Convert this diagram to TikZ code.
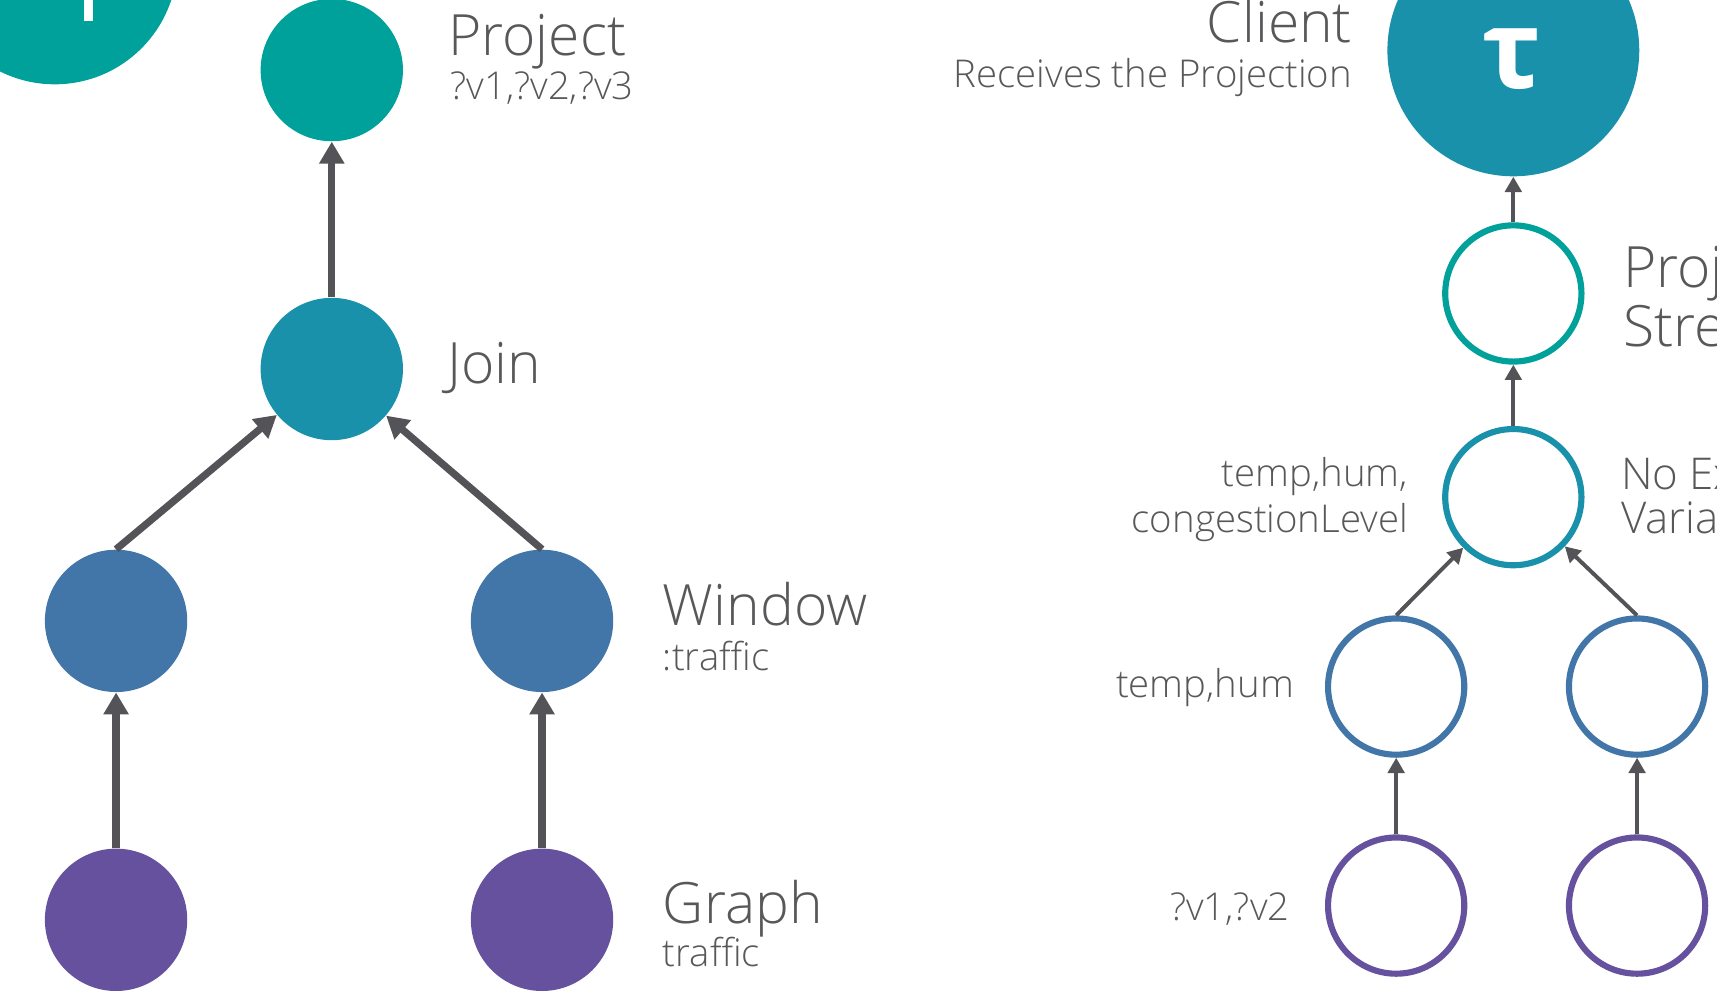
\documentclass[tikz,border=0pt]{standalone}
\usepackage{fontspec}
\setmainfont{Open Sans Light}
\newfontfamily\taufont{Open Sans}
\usetikzlibrary{arrows.meta}

\definecolor{cteal}{HTML}{00A19A}
\definecolor{cjoin}{HTML}{1A91AA}
\definecolor{cwin}{HTML}{4275A8}
\definecolor{cgraph}{HTML}{66519E}
\definecolor{carrow}{HTML}{545458}
\definecolor{ctext}{HTML}{58585B}

\begin{document}
\begin{tikzpicture}[x=0.5pt,y=-0.5pt,
  opfill/.style={circle, inner sep=0pt, minimum size=65pt},
  opring/.style={circle, inner sep=0pt, minimum size=62.2pt, line width=2.8pt, draw, fill=white},
  bigarrow/.style={draw=carrow, line width=3.3pt, -{Triangle[length=10pt,width=11pt]}},
  thinarrow/.style={draw=carrow, line width=1.8pt, -{Triangle[length=7pt,width=7.5pt]}},
  title/.style={text=ctext, inner sep=0pt, font=\fontsize{26}{30}\selectfont},
  subtitle/.style={text=ctext, inner sep=0pt, font=\fontsize{17.5}{21}\selectfont},
  note/.style={text=ctext, inner sep=0pt, font=\fontsize{20}{24}\selectfont}]

\useasboundingbox (0,0) rectangle (1568,909);
\clip (0,0) rectangle (1568,909);

% ---- left plan: operator tree ----
\node[circle, inner sep=0pt, minimum size=112pt, fill=cteal] (root) at (50,-35) {};
\fill[white] (77,-10) rectangle (85,19);

\node[opfill, fill=cteal]  (proj) at (303,64)  {};
\node[opfill, fill=cjoin]  (join) at (303,337) {};
\node[opfill, fill=cwin]   (wl)   at (106,567) {};
\node[opfill, fill=cwin]   (wr)   at (495,567) {};
\node[opfill, fill=cgraph] (gl)   at (106,840) {};
\node[opfill, fill=cgraph] (gr)   at (495,840) {};

\draw[bigarrow] (join.north) -- (proj.south);
\draw[bigarrow] (wl.north) -- (join);
\draw[bigarrow] (wr.north) -- (join);
\draw[bigarrow] (gl.north) -- (wl.south);
\draw[bigarrow] (gr.north) -- (wr.south);

\node[title, anchor=base west]    (tproj) at (409,51)  {Project};
\node[subtitle, anchor=base west] (sproj) at (411,91)  {?v1,?v2,?v3};
\node[title, anchor=base west]    (tjoin) at (408,350) {Join};
\node[title, anchor=base west]    (twin)  at (605,571) {Window};
\node[subtitle, anchor=base west] (swin)  at (605,612) {:traffic};
\node[title, anchor=base west]    (tgr)   at (605,843) {Graph};
\node[subtitle, anchor=base west] (sgr)   at (605,883) {traffic};

% ---- right plan: streaming tree ----
\node[circle, inner sep=0pt, minimum size=115pt, fill=cjoin] (client) at (1382,46) {};
\node[text=white, inner sep=0pt, anchor=base, font=\taufont\bfseries\fontsize{50}{50}\selectfont] (tau) at (1381,81) {τ};

\node[opring, draw=cteal]  (ps)  at (1382,268) {};
\node[opring, draw=cjoin]  (mid) at (1382,454) {};
\node[opring, draw=cwin]   (bl)  at (1275,627) {};
\node[opring, draw=cwin]   (br)  at (1495,627) {};
\node[opring, draw=cgraph] (pl)  at (1275,827) {};
\node[opring, draw=cgraph] (pr)  at (1495,827) {};

\draw[thinarrow] (ps.north) -- (client.south);
\draw[thinarrow] (mid.north) -- (ps.south);
\draw[thinarrow] (bl.north) -- (mid);
\draw[thinarrow] (br.north) -- (mid);
\draw[thinarrow] (pl.north) -- (bl.south);
\draw[thinarrow] (pr.north) -- (br.south);

\node[title, anchor=base east]    (tcl) at (1235,39) {Client};
\node[subtitle, anchor=base east] (scl) at (1235,80) {Receives the Projection};
\node[title, anchor=base west]    (tps1) at (1482,263) {Projection};
\node[title, anchor=base west]    (tps2) at (1482,316) {Stream};
\node[subtitle, anchor=base east] (lm1) at (1286,444) {temp,hum,};
\node[subtitle, anchor=base east] (lm2) at (1286,486) {congestionLevel};
\node[note, anchor=base west]     (rm1) at (1480,447) {No Explicit};
\node[note, anchor=base west]     (rm2) at (1480,487) {Variables};
\node[subtitle, anchor=base east] (lbl) at (1182,637) {temp,hum};
\node[subtitle, anchor=base east] (lpl) at (1178,841) {?v1,?v2};
\end{tikzpicture}
\end{document}
